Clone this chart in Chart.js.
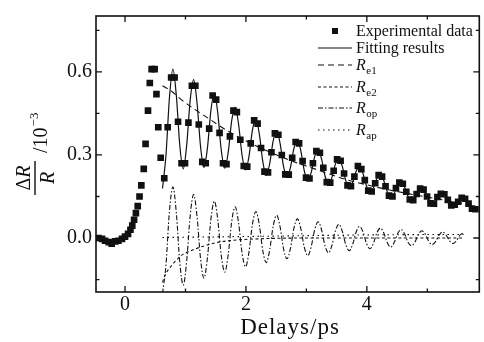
<!DOCTYPE html>
<html>
<head>
<meta charset="utf-8">
<script src="https://cdn.jsdelivr.net/npm/chart.js@4.4.1/dist/chart.umd.min.js"></script>
<style>
  html, body { margin: 0; padding: 0; background: #fff; }
  canvas { display: block; }
</style>
</head>
<body>
<canvas id="chart" width="484" height="342"></canvas>
<script>
// experimental points: rise + initial spike, then the oscillating part
const expTime = [
  -0.44, -0.38, -0.33, -0.27, -0.22, -0.16, -0.11, -0.05, 0.0, 0.05,
  0.09, 0.12, 0.15, 0.18, 0.21, 0.24, 0.27, 0.31, 0.34, 0.38,
  0.41, 0.44, 0.49, 0.52, 0.55, 0.59,
  0.649, 0.706, 0.763, 0.820, 0.877, 0.935,
  0.992, 1.049, 1.106, 1.163, 1.220, 1.278,
  1.335, 1.392, 1.449, 1.507, 1.564, 1.621,
  1.678, 1.735, 1.793, 1.850, 1.907, 1.964,
  2.021, 2.079, 2.136, 2.193, 2.250, 2.307,
  2.365, 2.422, 2.479, 2.536, 2.593, 2.651,
  2.708, 2.765, 2.822, 2.879, 2.937, 2.994,
  3.051, 3.108, 3.165, 3.223, 3.280, 3.337,
  3.394, 3.451, 3.508, 3.566, 3.623, 3.680,
  3.737, 3.794, 3.852, 3.909, 3.966, 4.023,
  4.080, 4.138, 4.195, 4.252, 4.309, 4.366,
  4.424, 4.481, 4.538, 4.595, 4.652, 4.710,
  4.767, 4.824, 4.881, 4.938, 4.996, 5.053,
  5.110, 5.167, 5.224, 5.282, 5.339, 5.396,
  5.453, 5.510, 5.568, 5.625, 5.682, 5.739,
  5.796
]
const expValue = [
  0.0, -0.003, -0.01, -0.015, -0.02, -0.012, -0.01, -0.003, 0.005, 0.015,
  0.03, 0.045, 0.066, 0.09, 0.115, 0.15, 0.19, 0.25, 0.34, 0.46,
  0.56, 0.61, 0.61, 0.52, 0.40, 0.29,
  0.216, 0.40, 0.58, 0.58, 0.42, 0.27,
  0.27, 0.417, 0.55, 0.55, 0.41, 0.275,
  0.27, 0.395, 0.515, 0.50, 0.38, 0.27,
  0.267, 0.367, 0.46, 0.455, 0.355, 0.26,
  0.258, 0.342, 0.425, 0.413, 0.325, 0.24,
  0.237, 0.31, 0.378, 0.373, 0.30, 0.23,
  0.229, 0.29, 0.347, 0.342, 0.278, 0.218,
  0.215, 0.27, 0.314, 0.308, 0.254, 0.202,
  0.20, 0.243, 0.284, 0.279, 0.233, 0.19,
  0.187, 0.222, 0.26, 0.249, 0.209, 0.171,
  0.168, 0.198, 0.227, 0.222, 0.187, 0.153,
  0.15, 0.18, 0.20, 0.196, 0.167, 0.139,
  0.137, 0.159, 0.179, 0.175, 0.15, 0.125,
  0.124, 0.148, 0.16, 0.158, 0.138, 0.118,
  0.12, 0.131, 0.145, 0.142, 0.124, 0.106,
  0.104
]

const fitTime = [
  0.620, 0.677, 0.734, 0.792, 0.849, 0.906, 0.963, 1.020, 1.078, 1.135,
  1.192, 1.249, 1.306, 1.364, 1.421, 1.478, 1.535, 1.592, 1.650, 1.707,
  1.764, 1.821, 1.878, 1.936, 1.993, 2.050, 2.107, 2.164, 2.222, 2.279,
  2.336, 2.393, 2.450, 2.508, 2.565, 2.622, 2.679, 2.736, 2.794, 2.851,
  2.908, 2.965, 3.022, 3.080, 3.137, 3.194, 3.251, 3.308, 3.366, 3.423,
  3.480, 3.537, 3.594, 3.652, 3.709, 3.766, 3.823, 3.880, 3.938, 3.995,
  4.052, 4.109, 4.166, 4.224, 4.281, 4.338, 4.395, 4.452, 4.510, 4.567,
  4.624, 4.681, 4.738, 4.796, 4.853, 4.910, 4.967, 5.024, 5.082, 5.139,
  5.196, 5.253, 5.310, 5.368, 5.425, 5.482, 5.539, 5.596, 5.654, 5.711,
  5.768, 5.825
]
const fitValue = [
  0.179, 0.297, 0.505, 0.610, 0.514, 0.334, 0.250, 0.335, 0.498, 0.572,
  0.486, 0.331, 0.255, 0.327, 0.462, 0.523, 0.450, 0.317, 0.252, 0.310,
  0.423, 0.473, 0.412, 0.299, 0.246, 0.294, 0.389, 0.431, 0.375, 0.276,
  0.226, 0.269, 0.350, 0.387, 0.342, 0.259, 0.220, 0.255, 0.324, 0.354,
  0.315, 0.243, 0.208, 0.237, 0.294, 0.319, 0.285, 0.224, 0.194, 0.219,
  0.267, 0.288, 0.259, 0.207, 0.182, 0.202, 0.241, 0.257, 0.232, 0.187,
  0.164, 0.181, 0.215, 0.229, 0.207, 0.167, 0.147, 0.161, 0.191, 0.203,
  0.184, 0.151, 0.135, 0.146, 0.171, 0.181, 0.165, 0.136, 0.121, 0.131,
  0.153, 0.162, 0.149, 0.127, 0.115, 0.123, 0.140, 0.147, 0.134, 0.114,
  0.103, 0.110
]
// optical phonon part, same time grid as the fit (stops at 5.6 ps)
const ropValue = [
  -0.201, -0.098, 0.095, 0.185, 0.090, -0.088, -0.170, -0.083, 0.081, 0.157,
  0.076, -0.074, -0.145, -0.070, 0.069, 0.133, 0.065, -0.063, -0.123, -0.060,
  0.058, 0.113, 0.055, -0.054, -0.104, -0.051, 0.049, 0.096, 0.047, -0.046,
  -0.089, -0.043, 0.042, 0.082, 0.040, -0.039, -0.075, -0.037, 0.036, 0.069,
  0.034, -0.033, -0.064, -0.031, 0.030, 0.059, 0.029, -0.028, -0.054, -0.026,
  0.026, 0.050, 0.024, -0.024, -0.046, -0.022, 0.022, 0.042, 0.021, -0.020,
  -0.039, -0.019, 0.019, 0.036, 0.018, -0.017, -0.033, -0.016, 0.016, 0.031,
  0.015, -0.015, -0.028, -0.014, 0.013, 0.026, 0.013, -0.012, -0.024, -0.012,
  0.011, 0.022, 0.011, -0.010, -0.020, -0.010, 0.010, 0.019
]

const re1Time = [0.62, 0.77, 0.93, 1.15, 1.36, 1.6, 1.83, 2.1, 2.4, 2.8, 3.2, 3.6, 4.0, 4.5, 5.0, 5.4, 5.8]
const re1Value = [0.55, 0.53, 0.50, 0.465, 0.435, 0.40, 0.37, 0.34, 0.31, 0.275, 0.245, 0.215, 0.192, 0.168, 0.148, 0.132, 0.118]

const re2Time = [0.62, 0.66, 0.75, 0.85, 0.95, 1.1, 1.23, 1.4, 1.5, 1.8, 2.2, 3.0, 4.5, 5.6]
const re2Value = [-0.16, -0.135, -0.105, -0.08, -0.06, -0.045, -0.034, -0.023, -0.017, -0.008, -0.003, 0, 0, 0]

const rapTime = [0.62, 1.5, 2.5, 3.5, 4.5, 5.6]
const rapValue = [0.002, 0.004, 0.007, 0.010, 0.012, 0.013]

const xTickValues = [0, 2, 4]
const xMinorTicks = [1, 3, 5]
const yTickValues = [0, 0.3, 0.6]
const yMinorTicks = [-0.15, 0.15, 0.45, 0.75]

const SERIF = '"Liberation Serif", "DejaVu Serif", serif'
const INK = '#111'

const toPoints = (xs, ys) => ys.map((y, i) => ({ x: xs[i], y: y }))

// box frame with inward ticks on all four sides
const framePlugin = {
  id: 'frame',
  afterDraw(chart) {
    const { ctx, chartArea: a, scales: { x, y } } = chart
    ctx.save()
    ctx.strokeStyle = INK
    ctx.lineWidth = 1.6
    ctx.strokeRect(a.left, a.top, a.right - a.left, a.bottom - a.top)
    ctx.lineWidth = 1.3
    ctx.beginPath()
    const xTick = (v, len) => {
      const px = x.getPixelForValue(v)
      ctx.moveTo(px, a.bottom); ctx.lineTo(px, a.bottom - len)
      ctx.moveTo(px, a.top); ctx.lineTo(px, a.top + len)
    }
    const yTick = (v, len) => {
      const py = y.getPixelForValue(v)
      ctx.moveTo(a.left, py); ctx.lineTo(a.left + len, py)
      ctx.moveTo(a.right, py); ctx.lineTo(a.right - len, py)
    }
    xTickValues.forEach(v => xTick(v, 6))
    xMinorTicks.forEach(v => xTick(v, 3.5))
    yTickValues.forEach(v => yTick(v, 6))
    yMinorTicks.forEach(v => yTick(v, 3.5))
    ctx.stroke()
    ctx.restore()
  }
}

// axis titles: rotated fraction dR/R /10^-3 and the x label
const titlePlugin = {
  id: 'titles',
  afterDraw(chart) {
    const { ctx } = chart
    ctx.save()
    ctx.fillStyle = INK
    ctx.textBaseline = 'alphabetic'

    ctx.save()
    ctx.translate(35, 178)
    ctx.rotate(-Math.PI / 2)
    const up = '20px ' + SERIF
    const it = 'italic 20px ' + SERIF
    ctx.font = up
    const wD = ctx.measureText('\u0394').width
    ctx.font = it
    const wR = ctx.measureText('R').width
    const numStart = -(wD + wR) / 2
    ctx.textAlign = 'left'
    ctx.font = up
    ctx.fillText('\u0394', numStart, -5)
    ctx.font = it
    ctx.fillText('R', numStart + wD, -5)
    ctx.fillRect(-17, -0.7, 34, 1.4)
    ctx.fillText('R', -wR / 2, 19)
    ctx.font = up
    ctx.fillText('/10', 25, 12)
    const w10 = ctx.measureText('/10').width
    ctx.font = '13px ' + SERIF
    ctx.fillText('\u22123', 25 + w10 + 1, 3)
    ctx.restore()

    ctx.font = '23px ' + SERIF
    ctx.textAlign = 'center'
    if ('letterSpacing' in ctx) ctx.letterSpacing = '1px'
    ctx.fillText('Delays/ps', 290, 334)
    ctx.restore()
  }
}

// legend drawn by hand so the R labels can carry subscripts
const legendPlugin = {
  id: 'paperLegend',
  afterDraw(chart) {
    const { ctx } = chart
    const rowY = [31, 48, 65, 87, 108, 130]
    ctx.save()
    ctx.fillStyle = INK
    ctx.strokeStyle = INK
    ctx.textAlign = 'left'
    ctx.textBaseline = 'alphabetic'
    chart.data.datasets.forEach((ds, i) => {
      const yy = rowY[i]
      if (!ds.showLine) {
        ctx.fillRect(332, yy - 3, 6, 6)
      } else {
        ctx.lineWidth = ds.borderWidth
        ctx.setLineDash(ds.borderDash || [])
        ctx.beginPath()
        ctx.moveTo(318, yy)
        ctx.lineTo(352, yy)
        ctx.stroke()
        ctx.setLineDash([])
      }
      const parts = ds.label.split('_')
      if (parts.length === 1) {
        ctx.font = '16px ' + SERIF
        ctx.fillText(parts[0], 356, yy + 5)
      } else {
        ctx.font = 'italic 16px ' + SERIF
        ctx.fillText(parts[0], 356, yy + 5)
        const w = ctx.measureText(parts[0]).width
        ctx.font = '11px ' + SERIF
        ctx.fillText(parts[1], 356 + w + 0.5, yy + 9)
      }
    })
    ctx.restore()
  }
}

const lineStyle = {
  showLine: true,
  pointRadius: 0,
  borderColor: INK,
  backgroundColor: INK,
  borderWidth: 1.1,
  cubicInterpolationMode: 'monotone',
  fill: false
}

new Chart(document.getElementById('chart'), {
  type: 'scatter',
  data: {
    datasets: [
      {
        label: 'Experimental data',
        data: toPoints(expTime, expValue),
        showLine: false,
        pointStyle: 'rect',
        pointRadius: 4.7,
        pointBackgroundColor: INK,
        pointBorderColor: INK,
        pointBorderWidth: 0
      },
      { ...lineStyle, label: 'Fitting results', data: toPoints(fitTime, fitValue), borderWidth: 1.2 },
      { ...lineStyle, label: 'R_e1', data: toPoints(re1Time, re1Value), borderDash: [6, 4] },
      { ...lineStyle, label: 'R_e2', data: toPoints(re2Time, re2Value), borderDash: [3, 2.5] },
      { ...lineStyle, label: 'R_op', data: toPoints(fitTime, ropValue), borderDash: [5, 2, 1.5, 2] },
      { ...lineStyle, label: 'R_ap', data: toPoints(rapTime, rapValue), borderDash: [1.5, 3.5] }
    ]
  },
  options: {
    responsive: false,
    animation: false,
    layout: { padding: { top: 11, right: 2, left: 0, bottom: 0 } },
    plugins: {
      legend: { display: false },
      tooltip: { enabled: false }
    },
    scales: {
      x: {
        type: 'linear',
        min: -0.48,
        max: 5.86,
        grid: { display: false, drawTicks: false },
        border: { display: false },
        afterBuildTicks: s => { s.ticks = xTickValues.map(v => ({ value: v })) },
        afterFit: s => { s.height = 50 },
        ticks: {
          font: { family: SERIF, size: 20 },
          color: INK,
          padding: 1,
          maxRotation: 0,
          callback: v => String(v)
        }
      },
      y: {
        min: -0.195,
        max: 0.802,
        grid: { display: false, drawTicks: false },
        border: { display: false },
        afterBuildTicks: s => { s.ticks = yTickValues.map(v => ({ value: v })) },
        afterFit: s => { s.width = 96 },
        ticks: {
          font: { family: SERIF, size: 20 },
          color: INK,
          padding: 4,
          callback: v => v.toFixed(1)
        }
      }
    }
  },
  plugins: [framePlugin, titlePlugin, legendPlugin]
})
</script>
</body>
</html>
